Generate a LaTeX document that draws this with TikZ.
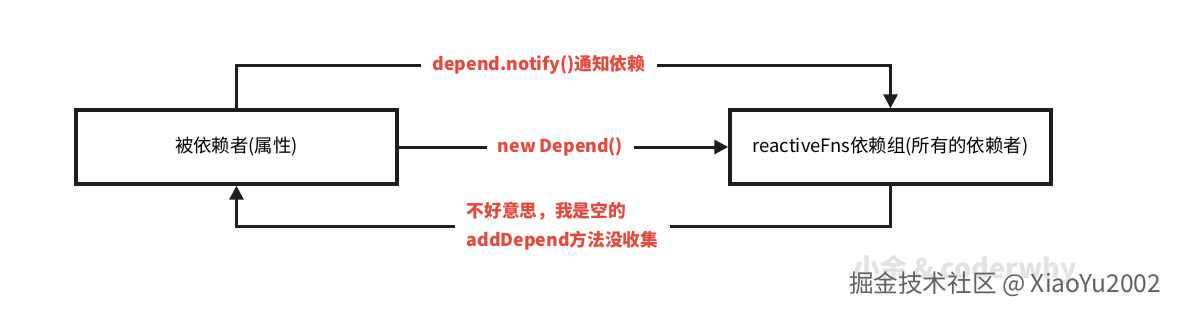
\documentclass[tikz,border=0pt]{standalone}
\usepackage{fontspec}
\setmainfont{Noto Sans CJK SC}
\usetikzlibrary{arrows.meta,positioning,calc}
\definecolor{notered}{HTML}{E8483C}
\definecolor{edge}{HTML}{1E1E1E}

\begin{document}
\begin{tikzpicture}[x=0.5pt,y=-0.5pt,font=\fontsize{9.2}{14.5}\selectfont,
  box/.style={draw=edge,line width=1.7pt,fill=white,minimum width=160.5pt,minimum height=37pt,inner sep=0pt},
  lbl/.style={text=notered,font=\fontsize{8.85}{14.5}\selectfont\bfseries,inner xsep=5.5pt,inner ysep=1pt},
  link/.style={draw=edge,line width=1.5pt},
  >={Triangle[length=7pt,width=7pt]}]
\useasboundingbox (0,0) rectangle (1182,313);
% watermark
\node[text=black!11,font=\fontsize{13.5}{13.5}\selectfont\bfseries] (wmback) at (965,270) {小余 \& coderwhy};
\node[text=black!62,font=\fontsize{12.3}{12.3}\selectfont] (wm) at (1005,284) {掘金技术社区 @ XiaoYu2002};
% boxes
\node[box] (dep) at (236.5,147) {被依赖者(属性)};
\node[box] (fns) at (890.5,147) {reactiveFns依赖组(所有的依赖者)};
% labels
\node[lbl] (notify) at (539,65) {depend.notify()通知依赖};
\node[lbl] (newdep) at (560.5,147) {new Depend()};
\node[lbl,align=left] (empty) at (562.5,226.5) {不好意思，我是空的\\addDepend方法没收集};
% links
\draw[link] (dep.north) |- (notify.west);
\draw[link,->] (notify.east) -| (fns.north);
\draw[link] (dep.east) -- (newdep.west);
\draw[link,->] (newdep.east) -- (fns.west);
\draw[link] (fns.south) |- (empty.east);
\draw[link,->] (empty.west) -| (dep.south);
\end{tikzpicture}
\end{document}
